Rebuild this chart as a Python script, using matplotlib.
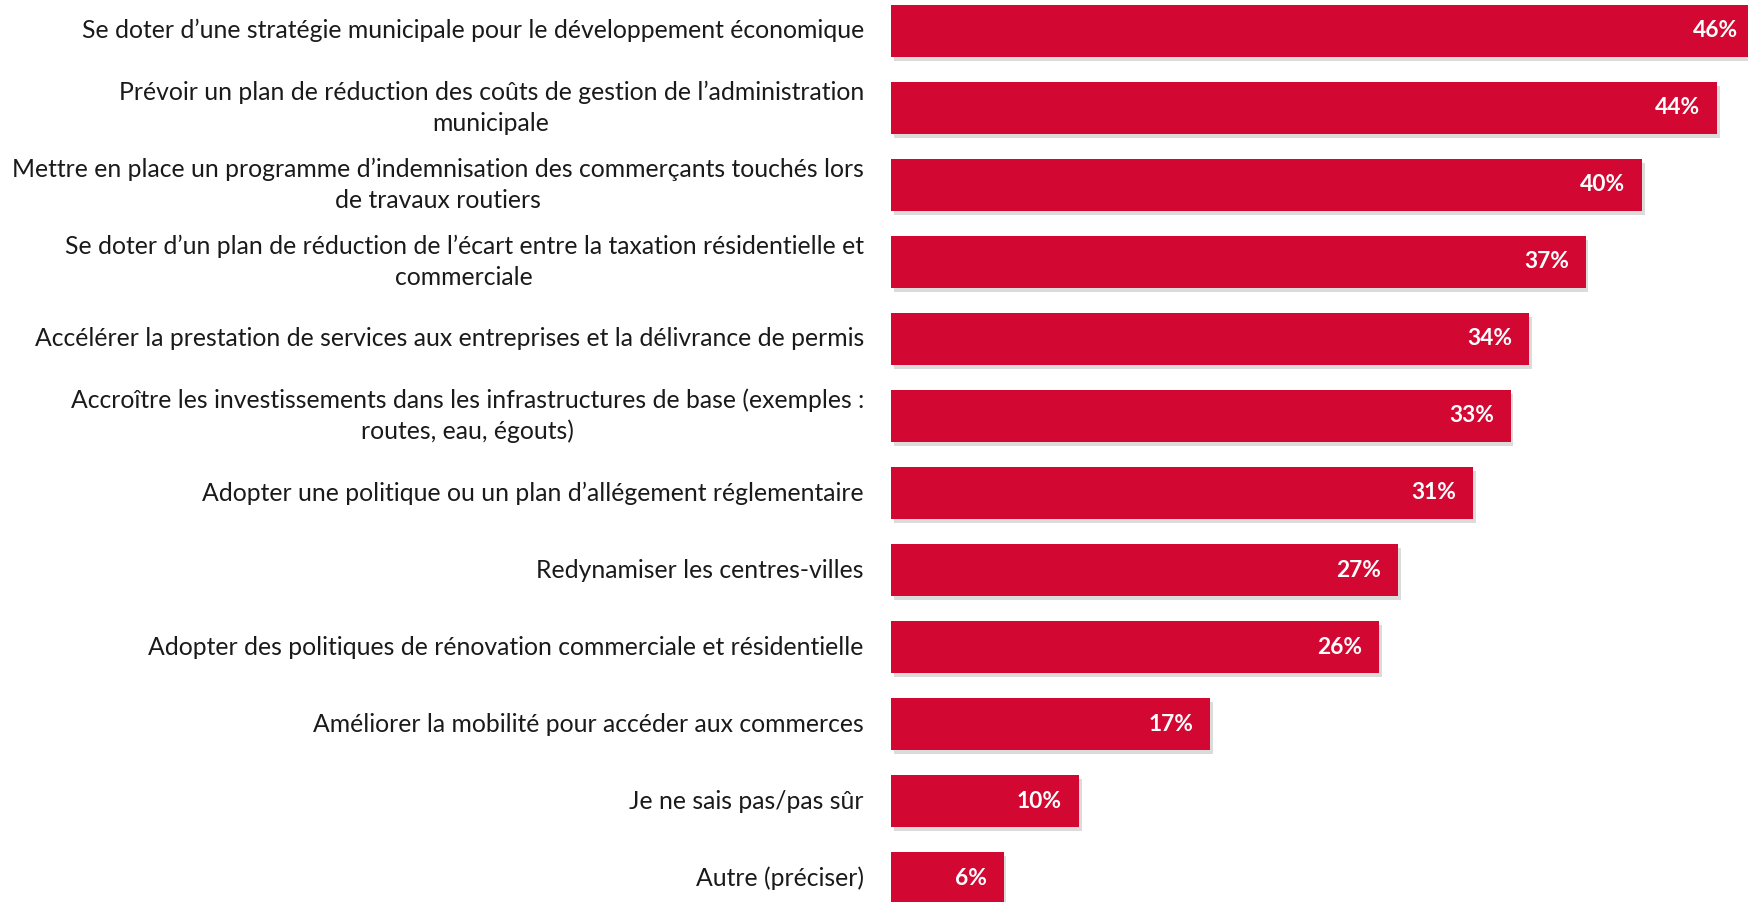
import matplotlib.pyplot as plt
import matplotlib.patheffects as pe

# Libellés et valeurs
labels = [
    'Se doter d’une stratégie municipale pour le développement économique',
    'Prévoir un plan de réduction des coûts de gestion de l’administration\nmunicipale',
    'Mettre en place un programme d’indemnisation des commerçants touchés lors\nde travaux routiers',
    'Se doter d’un plan de réduction de l’écart entre la taxation résidentielle et\ncommerciale',
    'Accélérer la prestation de services aux entreprises et la délivrance de permis',
    'Accroître les investissements dans les infrastructures de base (exemples :\nroutes, eau, égouts)',
    'Adopter une politique ou un plan d’allégement réglementaire',
    'Redynamiser les centres-villes',
    'Adopter des politiques de rénovation commerciale et résidentielle',
    'Améliorer la mobilité pour accéder aux commerces',
    'Je ne sais pas/pas sûr',
    'Autre (préciser)',
]
values = [46, 44, 40, 37, 34, 33, 31, 27, 26, 17, 10, 6]

bar_color = '#D20833'

plt.rcParams['font.family'] = ['Lato', 'DejaVu Sans']

fig = plt.figure(figsize=(17.49, 9.02), dpi=100)
ax = fig.add_axes([891 / 1749, 0, 1 - 891 / 1749, 1])

y_pos = list(range(len(values)))
shadow = [pe.SimplePatchShadow(offset=(2, -3), shadow_rgbFace='#888888', alpha=0.3), pe.Normal()]
bars = ax.barh(y_pos, values, height=0.68, color=bar_color, path_effects=shadow)

ax.set_xlim(0, 45.7)
ax.set_ylim(11.31, -0.40)
ax.axis('off')

# ajuster la taille de police pour obtenir la largeur du modèle
renderer = fig.canvas.get_renderer()
t = fig.text(0, 0, labels[0], fontsize=20)
w = t.get_window_extent(renderer).width
t.remove()
label_size = 20 * 785 / w
t = fig.text(0, 0, '46%', fontsize=20, fontweight='bold')
w = t.get_window_extent(renderer).width
t.remove()
value_size = 20 * 45 / w

# étiquettes de valeur
for y, v in zip(y_pos, values):
    ax.text(v - 0.9, y, f'{v}%', ha='right', va='center', color='white',
            fontsize=value_size, fontweight='bold')

# étiquettes de catégorie
for y, lab in zip(y_pos, labels):
    ax.text(-1.45, y, lab, ha='right', va='center', multialignment='center',
            fontsize=label_size, color='#1a1a1a', linespacing=1.4, clip_on=False)

plt.savefig('out.png', dpi=100)
